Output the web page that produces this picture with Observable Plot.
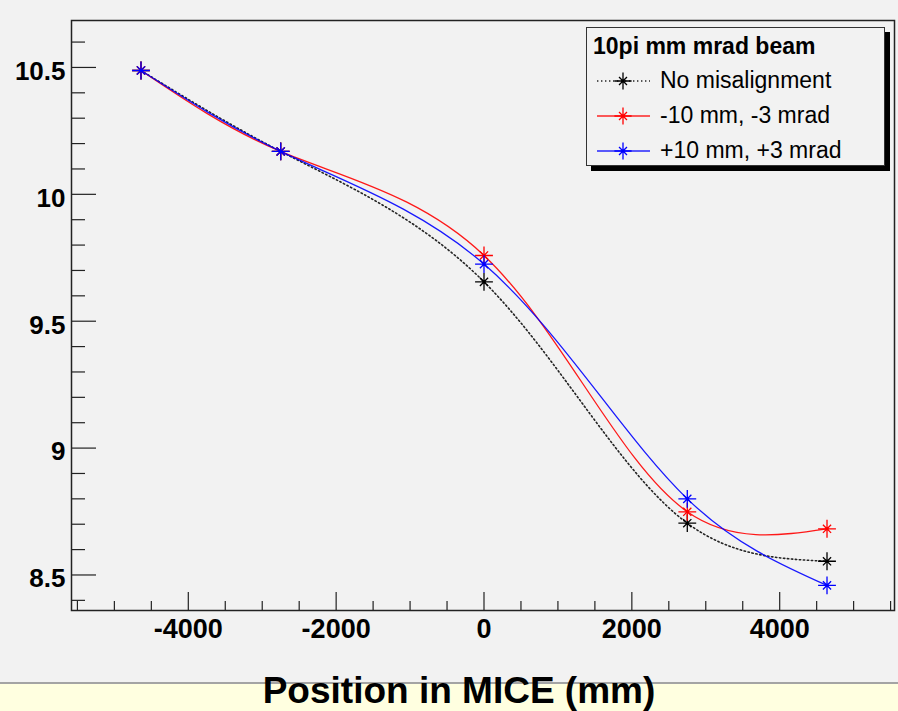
<!DOCTYPE html>
<html>
<head>
<meta charset="utf-8">
<script src="https://cdn.jsdelivr.net/npm/d3@7"></script>
<script src="https://cdn.jsdelivr.net/npm/@observablehq/plot@0.6"></script>
<style>
  html, body { margin: 0; padding: 0; background: #f2f2f2; }
  #wrap { position: relative; width: 898px; height: 711px; background: #f2f2f2; overflow: hidden; font-family: "Liberation Sans", Arial, Helvetica, sans-serif; }
  #band { position: absolute; left: 0; top: 682px; width: 898px; height: 29px; background: #ffffe0; border-top: 2px solid #a4a4a4; box-sizing: border-box; }
  #chart { position: absolute; left: 0; top: 0; }
  #chart svg { background: transparent; overflow: visible; }
  #xtitle { position: absolute; left: 459px; top: 709px; transform: translate(-50%, -100%); font-size: 37px; font-weight: bold; color: #000; white-space: nowrap; line-height: 1; }
  #legend { position: absolute; left: 586px; top: 27px; width: 297px; height: 137px; border: 1.5px solid #333; background: #f2f2f2; box-shadow: 5px 5px 0 #000; }
  #legend .ttl { position: absolute; left: 6px; top: 5px; font-size: 23px; font-weight: bold; white-space: nowrap; }
  #legend .row { position: absolute; left: 9px; height: 30px; white-space: nowrap; }
  #legend .row svg { position: absolute; left: 0; top: 0; }
  #legend .row span { position: absolute; left: 64px; top: 1px; font-size: 23px; }
</style>
</head>
<body>
<div id="wrap">
  <div id="band"></div>
  <div id="chart"></div>
  <div id="xtitle">Position in MICE (mm)</div>
  <div id="legend"></div>
</div>
<script>
// ---- data ----
const positions = [-4640, -2750, 0, 2750, 4640];
const noMisalignment = [10.488, 10.169, 9.655, 8.704, 8.554];
const minus10 = [10.488, 10.169, 9.759, 8.749, 8.682];
const plus10 = [10.488, 10.169, 9.725, 8.800, 8.459];
const seriesNames = ["No misalignment", "-10 mm, -3 mrad", "+10 mm, +3 mrad"];
const seriesColors = ["#000000", "#ff0000", "#0000ff"];
const legendTitle = "10pi mm mrad beam";
const xMajorTicks = [-4000, -2000, 0, 2000, 4000];
const xMinorTicks = [-5500, -5000, -4500, -3500, -3000, -2500, -1500, -1000, -500, 500, 1000, 1500, 2500, 3000, 3500, 4500, 5000, 5500];
const yMajorTicks = [8.5, 9, 9.5, 10, 10.5];
const yMinorTicks = [8.4, 8.6, 8.7, 8.8, 8.9, 9.1, 9.2, 9.3, 9.4, 9.6, 9.7, 9.8, 9.9, 10.1, 10.2, 10.3, 10.4, 10.6];

const seriesValues = [noMisalignment, minus10, plus10];
const rows = [];
seriesValues.forEach((vals, s) => vals.forEach((v, i) => rows.push({series: seriesNames[s], x: positions[i], y: v})));

// Smooth curve like ROOT's "C" option: parametric natural cubic spline,
// knots spaced by (chord length)^alpha in screen space.
function chordSpline(alpha) {
  return function(context) {
    let pts = [];
    function solve(h, v) {
      const n = v.length - 1;
      const M = new Array(n + 1).fill(0);
      if (n < 2) return M;
      const a = [], b = [], c = [], r = [];
      for (let i = 1; i < n; i++) {
        a.push(h[i - 1]); b.push(2 * (h[i - 1] + h[i])); c.push(h[i]);
        r.push(6 * ((v[i + 1] - v[i]) / h[i] - (v[i] - v[i - 1]) / h[i - 1]));
      }
      const m = b.length;
      for (let i = 1; i < m; i++) { const w = a[i] / b[i - 1]; b[i] -= w * c[i - 1]; r[i] -= w * r[i - 1]; }
      const sol = new Array(m);
      sol[m - 1] = r[m - 1] / b[m - 1];
      for (let i = m - 2; i >= 0; i--) sol[i] = (r[i] - c[i] * sol[i + 1]) / b[i];
      for (let i = 0; i < m; i++) M[i + 1] = sol[i];
      return M;
    }
    return {
      areaStart() {}, areaEnd() {},
      lineStart() { pts = []; },
      point(x, y) { pts.push([+x, +y]); },
      lineEnd() {
        const n = pts.length - 1;
        if (n < 0) return;
        context.moveTo(pts[0][0], pts[0][1]);
        if (n === 0) return;
        const h = [];
        for (let i = 0; i < n; i++) h.push(Math.pow(Math.hypot(pts[i + 1][0] - pts[i][0], pts[i + 1][1] - pts[i][1]) || 1e-6, alpha));
        const X = pts.map(p => p[0]), Y = pts.map(p => p[1]);
        const MX = solve(h, X), MY = solve(h, Y);
        for (let i = 0; i < n; i++) {
          const hi = h[i];
          const dx0 = (X[i + 1] - X[i]) / hi - hi * (2 * MX[i] + MX[i + 1]) / 6;
          const dy0 = (Y[i + 1] - Y[i]) / hi - hi * (2 * MY[i] + MY[i + 1]) / 6;
          const dx1 = (X[i + 1] - X[i]) / hi + hi * (MX[i] + 2 * MX[i + 1]) / 6;
          const dy1 = (Y[i + 1] - Y[i]) / hi + hi * (MY[i] + 2 * MY[i + 1]) / 6;
          context.bezierCurveTo(X[i] + dx0 * hi / 3, Y[i] + dy0 * hi / 3,
                                X[i + 1] - dx1 * hi / 3, Y[i + 1] - dy1 * hi / 3,
                                X[i + 1], Y[i + 1]);
        }
      }
    };
  };
}
const smoothCurve = chordSpline(0.5);

function seriesMarks(name, color, dashed) {
  const d = rows.filter(r => r.series === name);
  return [
    Plot.line(d, {x: "x", y: "y", curve: smoothCurve, stroke: color, strokeWidth: dashed ? 1.6 : 1.3,
      strokeDasharray: dashed ? "1.4,2.6" : null, strokeOpacity: dashed ? 0.85 : 0.9}),
    Plot.dot(d, {x: "x", y: "y", symbol: "plus", r: 5.8, stroke: color, strokeWidth: 1.3}),
    Plot.dot(d, {x: "x", y: "y", symbol: "times", r: 3.8, stroke: color, strokeWidth: 1.3}),
    Plot.dot(d, {x: "x", y: "y", r: 1.8, fill: color})
  ];
}

const fmt = d => String(d);
const chart = Plot.plot({
  width: 898,
  height: 711,
  marginLeft: 71,
  marginRight: 4,
  marginTop: 20,
  marginBottom: 101,
  style: {background: "transparent", fontFamily: "'Liberation Sans', Arial, Helvetica, sans-serif", color: "#000"},
  x: {domain: [-5580, 5553]},
  y: {domain: [8.36, 10.685]},
  marks: [
    Plot.axisX({ticks: xMajorTicks, tickSize: -18, fill: "none", stroke: "#222", strokeWidth: 1.2, label: null}),
    Plot.axisX({ticks: xMinorTicks, tickSize: -9, fill: "none", stroke: "#222", strokeWidth: 1.2, label: null}),
    Plot.axisY({ticks: yMajorTicks, tickSize: -25, fill: "none", stroke: "#222", strokeWidth: 1.2, label: null}),
    Plot.axisY({ticks: yMinorTicks, tickSize: -14, fill: "none", stroke: "#222", strokeWidth: 1.2, label: null}),
    Plot.axisX({ticks: xMajorTicks, tickSize: 0, tickPadding: 8, tickFormat: fmt, fontSize: 27, fontWeight: "bold", label: null}),
    Plot.axisY({ticks: yMajorTicks, tickSize: 0, tickPadding: 6, tickFormat: fmt, fontSize: 26, fontWeight: "bold", dy: 4, label: null}),
    Plot.frame({stroke: "#222", strokeWidth: 1.5}),
    ...seriesMarks(seriesNames[0], seriesColors[0], true),
    ...seriesMarks(seriesNames[1], seriesColors[1], false),
    ...seriesMarks(seriesNames[2], seriesColors[2], false)
  ]
});
document.getElementById("chart").appendChild(chart);

// ---- legend ----
const legend = document.getElementById("legend");
const ttl = document.createElement("div");
ttl.className = "ttl";
ttl.textContent = legendTitle;
legend.appendChild(ttl);
seriesNames.forEach((name, i) => {
  const row = document.createElement("div");
  row.className = "row";
  row.style.top = (38 + i * 35) + "px";
  const svg = d3.create("svg").attr("width", 58).attr("height", 30);
  const cy = 15, cx = 27;
  svg.append("line").attr("x1", 1).attr("x2", 54).attr("y1", cy).attr("y2", cy)
    .attr("stroke", seriesColors[i]).attr("stroke-width", i === 0 ? 1.4 : 1.3)
    .attr("stroke-dasharray", i === 0 ? "1.4,2.6" : null).attr("stroke-opacity", 0.85);
  svg.append("path").attr("transform", `translate(${cx},${cy})`)
    .attr("d", d3.symbol(d3.symbolPlus, Math.PI * 5.6 * 5.6)()).attr("fill", "none").attr("stroke", seriesColors[i]).attr("stroke-width", 1.3);
  svg.append("path").attr("transform", `translate(${cx},${cy})`)
    .attr("d", d3.symbol(d3.symbolTimes, Math.PI * 3.7 * 3.7)()).attr("fill", "none").attr("stroke", seriesColors[i]).attr("stroke-width", 1.3);
  svg.append("circle").attr("cx", cx).attr("cy", cy).attr("r", 1.8).attr("fill", seriesColors[i]);
  row.appendChild(svg.node());
  const sp = document.createElement("span");
  sp.textContent = name;
  row.appendChild(sp);
  legend.appendChild(row);
});
</script>
</body>
</html>
